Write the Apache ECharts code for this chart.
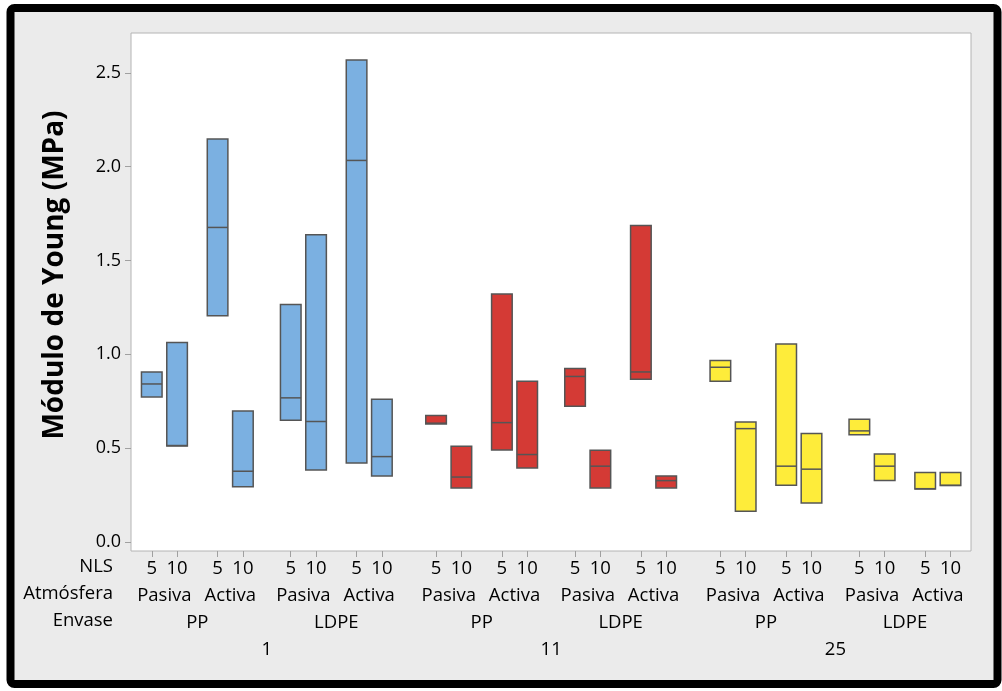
<!DOCTYPE html>
<html>
<head>
<meta charset="utf-8">
<script src="https://cdn.jsdelivr.net/npm/echarts@6/dist/echarts.min.js"></script>
<style>
  html, body { margin: 0; padding: 0; background: #ffffff; }
  #chart { width: 1002px; height: 691px; }
</style>
</head>
<body>
<div id="chart"></div>
<script>
// ---- Data ----
const groups = ['1', '11', '25'];
const envases = ['PP', 'LDPE'];
const atmosferas = ['Pasiva', 'Activa'];
const nlsLevels = ['5', '10'];
const rowTitles = ['NLS', 'Atmósfera', 'Envase'];
const yTicks = [0, 0.5, 1.0, 1.5, 2.0, 2.5];

// order: group > envase > atmósfera > NLS
const lows    = [0.773, 0.512, 1.205, 0.295, 0.649, 0.384, 0.421, 0.352,
                 0.629, 0.288, 0.490, 0.394, 0.723, 0.288, 0.867, 0.288,
                 0.857, 0.164, 0.302, 0.208, 0.572, 0.327, 0.283, 0.301];
const medians = [0.842, 0.514, 1.676, 0.377, 0.768, 0.642, 2.033, 0.455,
                 0.633, 0.346, 0.636, 0.466, 0.882, 0.404, 0.906, 0.327,
                 0.931, 0.604, 0.404, 0.388, 0.592, 0.404, 0.284, 0.302];
const highs   = [0.906, 1.063, 2.147, 0.698, 1.265, 1.637, 2.568, 0.761,
                 0.674, 0.510, 1.322, 0.857, 0.924, 0.489, 1.686, 0.352,
                 0.967, 0.640, 1.055, 0.578, 0.654, 0.469, 0.370, 0.370];
const groupColors = ['#7BB0E1', '#D43A35', '#FEEC3A'];

// ---- Layout constants (category spacing, in units of NLS step) ----
const GAP_A = 2.60, GAP_E = 5.49, GAP_G = 11.23, BOX_W = 0.814;
const X_MIN = -0.82, X_MAX = 2 * GAP_G + GAP_E + GAP_A + 1 + 0.81;

const positions = [], nlsLabelOf = [], groupOf = [];
const atmPos = [], atmLab = [], envPos = [], envLab = [], grpPos = [], grpLab = [];
groups.forEach((g, gi) => {
  grpPos.push(gi * GAP_G + (GAP_E + GAP_A + 1) / 2); grpLab.push(g);
  envases.forEach((e, ei) => {
    envPos.push(gi * GAP_G + ei * GAP_E + (GAP_A + 1) / 2); envLab.push(e);
    atmosferas.forEach((a, ai) => {
      atmPos.push(gi * GAP_G + ei * GAP_E + ai * GAP_A + 0.5); atmLab.push(a);
      nlsLevels.forEach((n, ni) => {
        positions.push(gi * GAP_G + ei * GAP_E + ai * GAP_A + ni);
        nlsLabelOf.push(n); groupOf.push(gi);
      });
    });
  });
});

function labelFor(vals, labs) {
  return function (v) {
    let best = 0, bd = Infinity;
    vals.forEach((p, i) => { const d = Math.abs(p - v); if (d < bd) { bd = d; best = i; } });
    return labs[best];
  };
}

const FONT = '"Open Sans", "Noto Sans", sans-serif';
const FS = 18.5;
const TXT = '#000';

function xAxisDef(vals, labs, offset, showTicks) {
  return {
    type: 'value', gridIndex: 0, position: 'bottom', offset: offset,
    min: X_MIN, max: X_MAX,
    axisLine: { show: false, onZero: false },
    splitLine: { show: false },
    axisTick: { show: showTicks, customValues: vals, length: 6, lineStyle: { color: '#a0a0a0' } },
    axisLabel: { customValues: vals, formatter: labelFor(vals, labs), margin: 8,
                 fontFamily: FONT, fontSize: FS, color: TXT },
    silent: true
  };
}

const series = groups.map((g, gi) => ({
  type: 'custom',
  name: g,
  xAxisIndex: 0, yAxisIndex: 0,
  data: positions.map((p, i) => groupOf[i] === gi ? [p, lows[i], medians[i], highs[i]] : null).filter(d => d),
  encode: { x: 0, y: [1, 2, 3] },
  renderItem: function (params, api) {
    const x = api.value(0);
    const lo = api.coord([x, api.value(1)]);
    const md = api.coord([x, api.value(2)]);
    const hi = api.coord([x, api.value(3)]);
    const w = api.size([BOX_W, 0])[0];
    return {
      type: 'group',
      children: [
        { type: 'rect', shape: { x: lo[0] - w / 2, y: hi[1], width: w, height: lo[1] - hi[1] },
          style: { fill: groupColors[gi], stroke: '#555', lineWidth: 1.5 } },
        { type: 'line', shape: { x1: lo[0] - w / 2, y1: md[1], x2: lo[0] + w / 2, y2: md[1] },
          style: { stroke: '#555', lineWidth: 1.5 } }
      ]
    };
  }
}));

const chart = echarts.init(document.getElementById('chart'), null, { renderer: 'canvas' });
const rowY = [566.7, 594, 621];
chart.setOption({
  animation: false,
  backgroundColor: '#ffffff',
  grid: { left: 131, right: 31, top: 33, bottom: 140, show: true,
          backgroundColor: '#ffffff', borderColor: '#b4b4b4', borderWidth: 1 },
  xAxis: [
    xAxisDef(positions, nlsLabelOf, 0, true),
    xAxisDef(atmPos, atmLab, 27, false),
    xAxisDef(envPos, envLab, 54, false),
    xAxisDef(grpPos, grpLab, 81, false)
  ],
  yAxis: {
    type: 'value', min: -0.048, max: 2.712,
    axisLine: { show: false, onZero: false },
    splitLine: { show: false },
    axisTick: { show: true, customValues: yTicks, length: 6, lineStyle: { color: '#a0a0a0' } },
    axisLabel: { customValues: yTicks, formatter: v => v.toFixed(1), margin: 10,
                 fontFamily: FONT, fontSize: 18, color: TXT }
  },
  graphic: [
    { type: 'rect', z: -10, silent: true,
      shape: { x: 10.5, y: 8, width: 987, height: 676, r: 4 },
      style: { fill: '#ebebeb', stroke: '#000', lineWidth: 8 } },
    { type: 'text', silent: true, x: 55, y: 275, rotation: Math.PI / 2,
      style: { text: 'Módulo de Young (MPa)', font: 'bold 28px ' + FONT, fill: '#000',
               align: 'center', verticalAlign: 'middle' } }
  ].concat(rowTitles.map((t, i) => ({
    type: 'text', silent: true, x: 113, y: rowY[i],
    style: { text: t, font: FS + 'px ' + FONT, fill: TXT, align: 'right', verticalAlign: 'middle' }
  }))),
  series: series
});
</script>
</body>
</html>
